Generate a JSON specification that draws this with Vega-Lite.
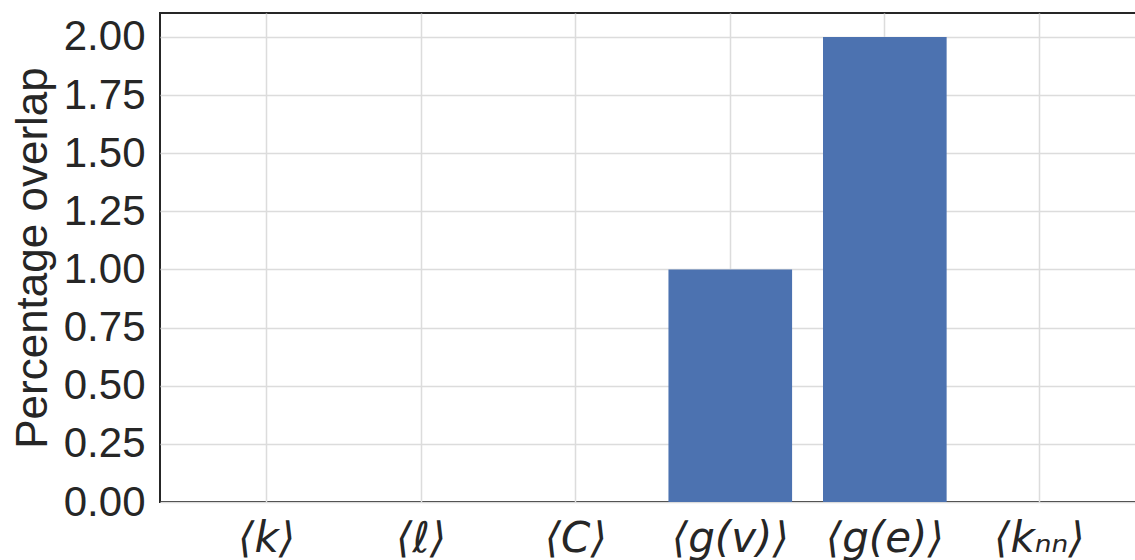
{
  "$schema": "https://vega.github.io/schema/vega-lite/v6.json",
  "autosize": {"type": "none"},
  "padding": {"left": 160, "top": 13, "right": 0, "bottom": 58},
  "width": 986,
  "height": 489,
  "background": "white",
  "config": {
    "view": {"stroke": "#262626", "strokeWidth": 2},
    "axis": {"gridColor": "#dcdcdc", "gridWidth": 1.5, "labelColor": "#262626", "titleColor": "#262626"}
  },
  "data": {
    "values": [
      {"metric": "⟨k⟩", "overlap": 0},
      {"metric": "⟨ℓ⟩", "overlap": 0},
      {"metric": "⟨C⟩", "overlap": 0},
      {"metric": "⟨g(v)⟩", "overlap": 1},
      {"metric": "⟨g(e)⟩", "overlap": 2},
      {"metric": "⟨kₙₙ⟩", "overlap": 0}
    ]
  },
  "mark": {"type": "bar", "color": "#4c72b0"},
  "encoding": {
    "x": {
      "field": "metric",
      "type": "nominal",
      "sort": null,
      "scale": {"paddingInner": 0.2, "paddingOuter": 0.29},
      "axis": {
        "title": null,
        "labelAngle": 0,
        "labelFont": "DejaVu Sans",
        "labelFontStyle": "italic",
        "labelFontSize": 42,
        "labelPadding": 16,
        "ticks": false,
        "domain": false,
        "grid": true,
        "bandPosition": 0.5
      }
    },
    "y": {
      "field": "overlap",
      "type": "quantitative",
      "scale": {"domain": [0, 2.103], "nice": false, "zero": true},
      "axis": {
        "title": "Percentage overlap",
        "titleFont": "Liberation Sans",
        "titleFontSize": 44,
        "titleFontWeight": "normal",
        "titlePadding": 8,
        "labelFont": "Liberation Sans",
        "labelFontSize": 42,
        "labelPadding": 15,
        "values": [0, 0.25, 0.5, 0.75, 1, 1.25, 1.5, 1.75, 2],
        "format": ".2f",
        "ticks": false,
        "domain": false,
        "grid": true
      }
    }
  }
}
